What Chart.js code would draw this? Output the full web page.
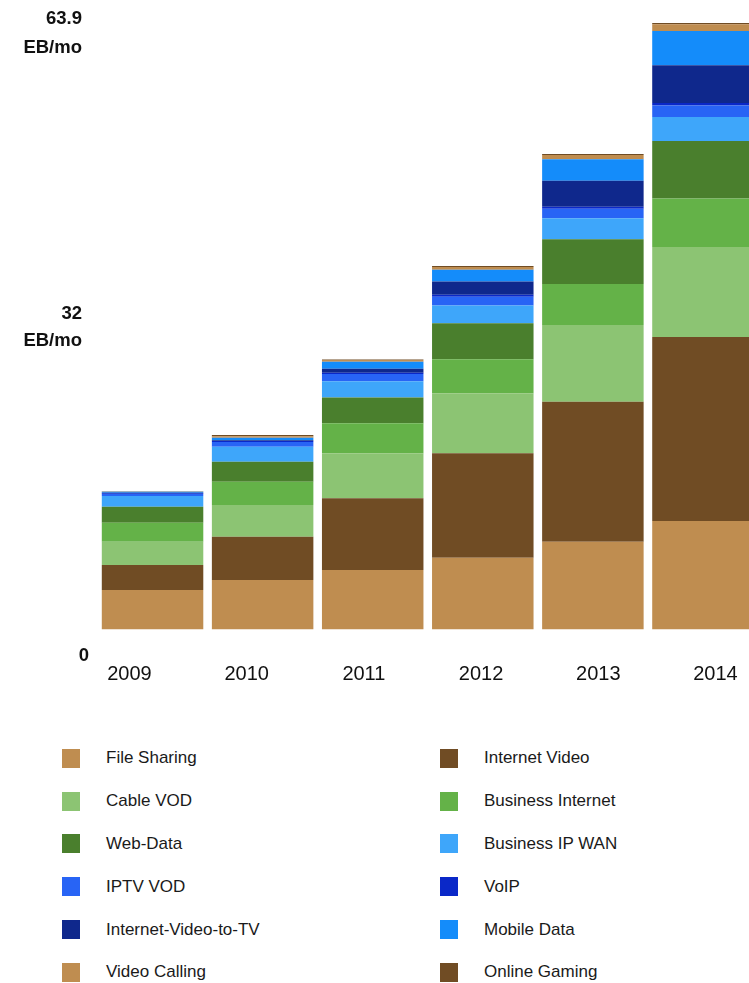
<!DOCTYPE html>
<html>
<head>
<meta charset="utf-8">
<script src="https://cdn.jsdelivr.net/npm/chart.js@4.4.1/dist/chart.umd.min.js"></script>
<style>
    html, body { margin: 0; padding: 0; background: #fff; overflow: hidden; }
    #wrap { position: relative; width: 749px; height: 983px; overflow: hidden; }
    #trafficChart { position: absolute; left: 0; top: 0; }
    #legend {
        position: absolute; left: 62px; top: 737px;
        display: grid; grid-template-columns: 378px 300px;
        font: 17px "Liberation Sans", Arial, sans-serif; color: #1a1a1a;
    }
    .item { display: flex; align-items: center; height: 42.8px; }
    .box { width: 18px; height: 19px; margin-right: 26px; }
</style>
</head>
<body>
<div id="wrap">
    <canvas id="trafficChart" width="760" height="700"></canvas>
    <div id="legend"></div>
</div>
<script>
const years = ['2009', '2010', '2011', '2012', '2013', '2014'];

// EB per month, stacked bottom to top
const fileSharing       = [4.16, 5.20, 6.26, 7.56, 9.24, 11.42];
const internetVideo     = [2.63, 4.56, 7.55, 10.99, 14.74, 19.37];
const cableVod          = [2.45, 3.34, 4.74, 6.32, 8.07, 9.47];
const businessInternet  = [2.00, 2.45, 3.16, 3.58, 4.32, 5.09];
const webData           = [1.68, 2.10, 2.70, 3.79, 4.70, 6.06];
const businessIpWan     = [1.13, 1.58, 1.72, 1.85, 2.21, 2.53];
const iptvVod           = [0.20, 0.50, 0.75, 0.93, 1.00, 1.20];
const voip              = [0.10, 0.10, 0.15, 0.20, 0.22, 0.27];
const internetVideoToTv = [0.05, 0.10, 0.42, 1.40, 2.74, 3.97];
const mobileData        = [0.10, 0.25, 0.72, 1.23, 2.25, 3.61];
const videoCalling      = [0.02, 0.15, 0.20, 0.30, 0.45, 0.70];
const onlineGaming      = [0.02, 0.15, 0.05, 0.12, 0.10, 0.15];

const yTickValues = [0, 32, 63.9];
const yUnit = 'EB/mo';

const series = [
    ['File Sharing', fileSharing, 'rgb(191,141,80)'],
    ['Internet Video', internetVideo, 'rgb(112,76,36)'],
    ['Cable VOD', cableVod, 'rgb(140,196,115)'],
    ['Business Internet', businessInternet, 'rgb(100,178,72)'],
    ['Web-Data', webData, 'rgb(74,127,45)'],
    ['Business IP WAN', businessIpWan, 'rgb(62,166,250)'],
    ['IPTV VOD', iptvVod, 'rgb(40,100,245)'],
    ['VoIP', voip, 'rgb(10,40,200)'],
    ['Internet-Video-to-TV', internetVideoToTv, 'rgb(15,40,140)'],
    ['Mobile Data', mobileData, 'rgb(20,140,250)'],
    ['Video Calling', videoCalling, 'rgb(191,141,80)'],
    ['Online Gaming', onlineGaming, 'rgb(112,76,36)']
];

// year labels and the EB/mo labels are drawn off the scales
const axisText = {
    id: 'axisText',
    afterDraw(chart) {
        const {ctx, scales, chartArea} = chart;
        ctx.save();
        ctx.fillStyle = '#111';
        ctx.textBaseline = 'middle';

        ctx.font = '20px "Liberation Sans", Arial, sans-serif';
        ctx.textAlign = 'center';
        years.forEach((yr, i) => {
            ctx.fillText(yr, scales.yearAxis.getPixelForValue(i), chartArea.bottom + 44.5);
        });

        ctx.font = 'bold 18.5px "Liberation Sans", Arial, sans-serif';
        const shift = [[26], [-12, 15], [-3, 26]];
        yTickValues.forEach((v, i) => {
            const py = scales.y.getPixelForValue(v);
            if (v === 0) {
                ctx.textAlign = 'center';
                ctx.fillText(String(v), 84, py + shift[i][0]);
                return;
            }
            ctx.textAlign = 'right';
            ctx.fillText(String(v), 82, py + shift[i][0]);
            ctx.fillText(yUnit, 82, py + shift[i][1]);
        });
        ctx.restore();
    }
};

function InitTrafficChart() {
    const ctx = document.getElementById('trafficChart').getContext('2d');
    const chart = new Chart(ctx, {
        type: 'bar',
        data: {
            labels: years,
            datasets: series.map(([label, data, color]) => ({
                label: label,
                data: data,
                backgroundColor: color,
                borderWidth: 0,
                categoryPercentage: 1,
                barPercentage: 0.922
            }))
        },
        plugins: [axisText],
        options: {
            responsive: false,
            animation: false,
            layout: { padding: { left: 97.5, right: 2, top: 10, bottom: 70.5 } },
            plugins: { legend: { display: false }, tooltip: { enabled: false } },
            scales: {
                x: { stacked: true, display: false },
                y: { stacked: true, display: false, min: 0, max: 65.2 },
                yearAxis: {
                    type: 'linear', axis: 'x', position: 'bottom', display: false,
                    offset: false, min: -0.273, max: 5.363
                }
            }
        }
    });

    const legend = document.getElementById('legend');
    chart.data.datasets.forEach(ds => {
        const item = document.createElement('div');
        item.className = 'item';
        item.innerHTML = `<span class="box" style="background:${ds.backgroundColor}"></span><span>${ds.label}</span>`;
        legend.appendChild(item);
    });
}

InitTrafficChart();
</script>
</body>
</html>
